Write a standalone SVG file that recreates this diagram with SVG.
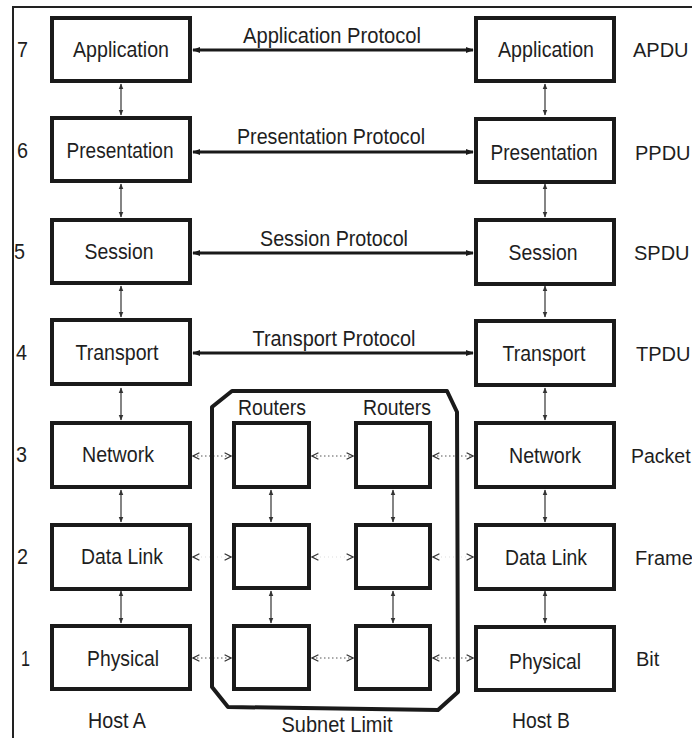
<svg xmlns="http://www.w3.org/2000/svg" width="692" height="738" viewBox="0 0 692 738">
<style>
  .box { fill: #fff; stroke: #1a1a1a; stroke-width: 4; }
  .t { font-family: "Liberation Sans", Arial, sans-serif; font-size: 22.5px; fill: #1e1e1e; }
  .p { font-family: "Liberation Sans", Arial, sans-serif; font-size: 20px; fill: #1e1e1e; }
  .c { text-anchor: middle; }
  .proto { stroke: #1a1a1a; stroke-width: 3; fill: none; }
  .vert { stroke: #333; stroke-width: 1.2; fill: none; }
  .dot { stroke: #555; stroke-width: 1; stroke-dasharray: 1.5 2.5; fill: none; }
  .faint { stroke: #ddd; stroke-width: 1; stroke-dasharray: 1 3; fill: none; }
  .frame { stroke: #222; stroke-width: 2; fill: none; }
  .subnet { stroke: #1a1a1a; stroke-width: 4; fill: none; stroke-linejoin: round; }
</style>
<defs>
  <marker id="pa" viewBox="0 0 10 10" refX="9" refY="5" markerWidth="8" markerHeight="8" markerUnits="userSpaceOnUse" orient="auto-start-reverse">
    <path d="M0,1 L10,5 L0,9 Z" fill="#1a1a1a"/>
  </marker>
  <marker id="va" viewBox="0 0 10 10" refX="9" refY="5" markerWidth="6" markerHeight="6" markerUnits="userSpaceOnUse" orient="auto-start-reverse">
    <path d="M0,1 L10,5 L0,9 Z" fill="#333"/>
  </marker>
  <marker id="da" viewBox="0 0 10 10" refX="9" refY="5" markerWidth="8" markerHeight="8" markerUnits="userSpaceOnUse" orient="auto-start-reverse">
    <path d="M1,1 L9,5 L1,9" fill="none" stroke="#333" stroke-width="1.6"/>
  </marker>
</defs>

<path class="frame" d="M13,738 L13,7 L692,7"/>

<g id="connectors">
  <line class="proto" x1="193" y1="50" x2="473" y2="50" marker-start="url(#pa)" marker-end="url(#pa)"/>
  <line class="proto" x1="193" y1="152" x2="473" y2="152" marker-start="url(#pa)" marker-end="url(#pa)"/>
  <line class="proto" x1="193" y1="253" x2="473" y2="253" marker-start="url(#pa)" marker-end="url(#pa)"/>
  <line class="proto" x1="193" y1="353" x2="473" y2="353" marker-start="url(#pa)" marker-end="url(#pa)"/>
  <line class="vert" x1="121" y1="84" x2="121" y2="115" marker-start="url(#va)" marker-end="url(#va)"/>
  <line class="vert" x1="121" y1="184" x2="121" y2="217" marker-start="url(#va)" marker-end="url(#va)"/>
  <line class="vert" x1="121" y1="286" x2="121" y2="317" marker-start="url(#va)" marker-end="url(#va)"/>
  <line class="vert" x1="121" y1="388" x2="121" y2="420" marker-start="url(#va)" marker-end="url(#va)"/>
  <line class="vert" x1="121" y1="490" x2="121" y2="522" marker-start="url(#va)" marker-end="url(#va)"/>
  <line class="vert" x1="121" y1="591" x2="121" y2="623" marker-start="url(#va)" marker-end="url(#va)"/>
  <line class="vert" x1="545" y1="84" x2="545" y2="115" marker-start="url(#va)" marker-end="url(#va)"/>
  <line class="vert" x1="545" y1="184" x2="545" y2="217" marker-start="url(#va)" marker-end="url(#va)"/>
  <line class="vert" x1="545" y1="286" x2="545" y2="317" marker-start="url(#va)" marker-end="url(#va)"/>
  <line class="vert" x1="545" y1="388" x2="545" y2="420" marker-start="url(#va)" marker-end="url(#va)"/>
  <line class="vert" x1="545" y1="490" x2="545" y2="522" marker-start="url(#va)" marker-end="url(#va)"/>
  <line class="vert" x1="545" y1="591" x2="545" y2="623" marker-start="url(#va)" marker-end="url(#va)"/>
  <line class="vert" x1="271" y1="490" x2="271" y2="522" marker-start="url(#va)" marker-end="url(#va)"/>
  <line class="vert" x1="271" y1="591" x2="271" y2="623" marker-start="url(#va)" marker-end="url(#va)"/>
  <line class="vert" x1="393" y1="490" x2="393" y2="522" marker-start="url(#va)" marker-end="url(#va)"/>
  <line class="vert" x1="393" y1="591" x2="393" y2="623" marker-start="url(#va)" marker-end="url(#va)"/>
  <line class="dot" x1="193" y1="456" x2="231" y2="456" marker-start="url(#da)" marker-end="url(#da)"/>
  <line class="dot" x1="312" y1="456" x2="353" y2="456" marker-start="url(#da)" marker-end="url(#da)"/>
  <line class="dot" x1="433" y1="456" x2="473" y2="456" marker-start="url(#da)" marker-end="url(#da)"/>
  <line class="faint" x1="193" y1="557" x2="231" y2="557" marker-start="url(#da)" marker-end="url(#da)"/>
  <line class="faint" x1="312" y1="557" x2="353" y2="557" marker-start="url(#da)" marker-end="url(#da)"/>
  <line class="faint" x1="433" y1="557" x2="473" y2="557" marker-start="url(#da)" marker-end="url(#da)"/>
  <line class="dot" x1="193" y1="658" x2="231" y2="658" marker-start="url(#da)" marker-end="url(#da)"/>
  <line class="dot" x1="312" y1="658" x2="353" y2="658" marker-start="url(#da)" marker-end="url(#da)"/>
  <line class="dot" x1="433" y1="658" x2="473" y2="658" marker-start="url(#da)" marker-end="url(#da)"/>
</g>

<g id="subnet">
  <path class="subnet" d="M212,407 L232,391 L447,391 L457,412 L458,692 L438,710 L228,707 L212,687 Z"/>
  <text class="t c" x="272" y="415" textLength="68" lengthAdjust="spacingAndGlyphs">Routers</text>
  <text class="t c" x="397" y="415" textLength="68" lengthAdjust="spacingAndGlyphs">Routers</text>
  <text class="t c" x="337" y="732" textLength="111" lengthAdjust="spacingAndGlyphs">Subnet Limit</text>
</g>

<g id="hostA-application"><rect class="box" x="52" y="18" width="138" height="63"/><text class="t c" x="121" y="57" textLength="96" lengthAdjust="spacingAndGlyphs">Application</text></g>
<g id="hostA-presentation"><rect class="box" x="52" y="118" width="138" height="63"/><text class="t c" x="120" y="158" textLength="107" lengthAdjust="spacingAndGlyphs">Presentation</text></g>
<g id="hostA-session"><rect class="box" x="52" y="220" width="138" height="63"/><text class="t c" x="119" y="259" textLength="69" lengthAdjust="spacingAndGlyphs">Session</text></g>
<g id="hostA-transport"><rect class="box" x="52" y="320" width="138" height="64"/><text class="t c" x="117" y="360" textLength="83" lengthAdjust="spacingAndGlyphs">Transport</text></g>
<g id="hostA-network"><rect class="box" x="52" y="423" width="138" height="64"/><text class="t c" x="118" y="462" textLength="72" lengthAdjust="spacingAndGlyphs">Network</text></g>
<g id="hostA-datalink"><rect class="box" x="52" y="525" width="138" height="64"/><text class="t c" x="122" y="564" textLength="82" lengthAdjust="spacingAndGlyphs">Data Link</text></g>
<g id="hostA-physical"><rect class="box" x="52" y="626" width="138" height="63"/><text class="t c" x="123" y="666" textLength="72" lengthAdjust="spacingAndGlyphs">Physical</text></g>

<g id="hostB-application"><rect class="box" x="476" y="18" width="138" height="63"/><text class="t c" x="546" y="57" textLength="96" lengthAdjust="spacingAndGlyphs">Application</text></g>
<g id="hostB-presentation"><rect class="box" x="476" y="119" width="138" height="63"/><text class="t c" x="544" y="160" textLength="107" lengthAdjust="spacingAndGlyphs">Presentation</text></g>
<g id="hostB-session"><rect class="box" x="476" y="220" width="138" height="64"/><text class="t c" x="543" y="260" textLength="69" lengthAdjust="spacingAndGlyphs">Session</text></g>
<g id="hostB-transport"><rect class="box" x="476" y="321" width="138" height="64"/><text class="t c" x="544" y="361" textLength="83" lengthAdjust="spacingAndGlyphs">Transport</text></g>
<g id="hostB-network"><rect class="box" x="476" y="423" width="138" height="64"/><text class="t c" x="545" y="463" textLength="72" lengthAdjust="spacingAndGlyphs">Network</text></g>
<g id="hostB-datalink"><rect class="box" x="476" y="525" width="138" height="64"/><text class="t c" x="546" y="565" textLength="82" lengthAdjust="spacingAndGlyphs">Data Link</text></g>
<g id="hostB-physical"><rect class="box" x="476" y="627" width="138" height="63"/><text class="t c" x="545" y="669" textLength="72" lengthAdjust="spacingAndGlyphs">Physical</text></g>

<g id="router-1-3"><rect class="box" x="234" y="423" width="75" height="64"/></g>
<g id="router-2-3"><rect class="box" x="356" y="423" width="74" height="64"/></g>
<g id="router-1-2"><rect class="box" x="234" y="525" width="75" height="63"/></g>
<g id="router-2-2"><rect class="box" x="356" y="525" width="74" height="63"/></g>
<g id="router-1-1"><rect class="box" x="234" y="626" width="75" height="63"/></g>
<g id="router-2-1"><rect class="box" x="356" y="626" width="74" height="63"/></g>

<g id="protocol-labels">
  <text class="t c" x="332" y="43" textLength="178" lengthAdjust="spacingAndGlyphs">Application Protocol</text>
  <text class="t c" x="331" y="144" textLength="188" lengthAdjust="spacingAndGlyphs">Presentation Protocol</text>
  <text class="t c" x="334" y="246" textLength="148" lengthAdjust="spacingAndGlyphs">Session Protocol</text>
  <text class="t c" x="334" y="346" textLength="163" lengthAdjust="spacingAndGlyphs">Transport Protocol</text>
</g>

<g id="layer-numbers">
  <text class="t" x="17" y="57" textLength="11" lengthAdjust="spacingAndGlyphs">7</text>
  <text class="t" x="17" y="158" textLength="11" lengthAdjust="spacingAndGlyphs">6</text>
  <text class="t" x="14" y="259" textLength="11" lengthAdjust="spacingAndGlyphs">5</text>
  <text class="t" x="16" y="360" textLength="11" lengthAdjust="spacingAndGlyphs">4</text>
  <text class="t" x="16" y="462" textLength="11" lengthAdjust="spacingAndGlyphs">3</text>
  <text class="t" x="17" y="564" textLength="11" lengthAdjust="spacingAndGlyphs">2</text>
  <text class="t" x="21" y="666" textLength="9" lengthAdjust="spacingAndGlyphs">1</text>
</g>

<g id="pdu-labels">
  <text class="p" x="633" y="57">APDU</text>
  <text class="p" x="635" y="160">PPDU</text>
  <text class="p" x="634" y="260">SPDU</text>
  <text class="p" x="636" y="361">TPDU</text>
  <text class="p" x="631" y="463" style="font-size:19.5px">Packet</text>
  <text class="p" x="635" y="565">Frame</text>
  <text class="p" x="636" y="666">Bit</text>
</g>

<g id="host-labels">
  <text class="t c" x="117" y="728" textLength="58" lengthAdjust="spacingAndGlyphs">Host A</text>
  <text class="t c" x="541" y="728" textLength="58" lengthAdjust="spacingAndGlyphs">Host B</text>
</g>
</svg>
